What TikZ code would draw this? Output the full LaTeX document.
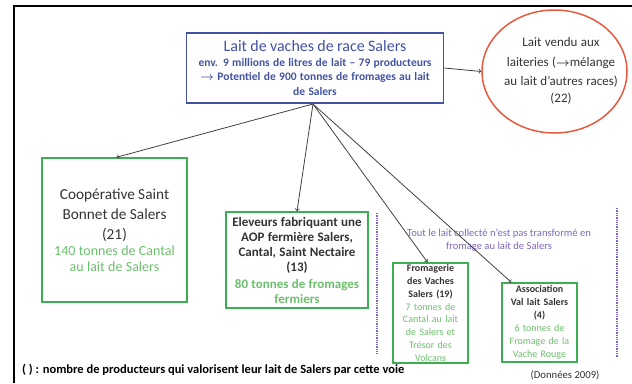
\documentclass[tikz,border=0pt]{standalone}
\usepackage{amsmath}
\usepackage{fontspec}
\setmainfont{Carlito}
\usetikzlibrary{shapes.geometric}
\definecolor{laitblue}{HTML}{4352A3}
\definecolor{laitred}{HTML}{E85A3F}
\definecolor{boxgreen}{HTML}{3DAE52}
\definecolor{txtgreen}{HTML}{6CBF6C}
\definecolor{voiepurple}{HTML}{7F66C2}
\definecolor{txtgray}{HTML}{333333}
% un bloc de lignes dans une taille donnee
\newcommand{\bloc}[3]{{\fontsize{#1}{#2}\selectfont #3\par}}

\begin{document}
\begin{tikzpicture}[x=1pt, y=-1pt,
    filiere/.style={draw=boxgreen, line width=1.5pt, align=center, inner sep=1pt, text=txtgray},
    fleche/.style={->, draw=black!75, line width=0.8pt},
    voie/.style={draw=voiepurple, densely dotted, line width=1.3pt}]
  \useasboundingbox (0,0) rectangle (632,383);
  \draw[line width=1.8pt] (14,383) -- (14,6) -- (632,6);

  \node [draw=laitblue, line width=1.6pt, align=center, text=laitblue, text width=255pt,
         minimum width=257pt, minimum height=70pt, inner sep=1pt] (lait) at (315,68)
    {\bloc{16}{18}{Lait de vaches de race Salers}
     \bloc{11.5}{14.5}{\bfseries env. 9 millions de litres de lait -- 79 producteurs\\
     $\boldsymbol{\rightarrow}$ Potentiel de 900 tonnes de fromages au lait\\ de Salers}};
  \node [ellipse, draw=laitred, line width=1.5pt, minimum width=145pt, minimum height=123pt,
         inner sep=0pt] (laiteries) at (554.5,71.5) {};
  \node [align=center, text=txtgray, text width=128pt, inner sep=0pt] (laiteries-txt) at (561,71)
    {\bloc{13}{19.5}{Lait vendu aux\\ laiteries ($\boldsymbol{\rightarrow}$mélange\\
     au lait d’autres\ races)\\[-3pt] (22)}};

  \node [filiere, text width=140pt, minimum width=145pt, minimum height=144pt] (coop) at (114.5,230)
    {\bloc{15.3}{20}{Coopérative Saint\\ Bonnet de Salers\\ (21)}
     \bloc{14}{16}{\color{txtgreen}140 tonnes\ de Cantal\\ au lait de Salers}};
  \node [filiere, text width=140pt, minimum width=142pt, minimum height=96pt] (eleveurs) at (297,260)
    {\bloc{13}{15}{\bfseries Eleveurs fabriquant une\\ AOP fermière Salers,\\
     Cantal, Saint Nectaire\\ (13)}\vspace{2pt}
     \bloc{13}{15}{\bfseries\color{txtgreen}80 tonnes de fromages\\ fermiers}};
  \node [filiere, text width=73pt, minimum width=75pt, minimum height=100pt] (fromagerie) at (430.5,313)
    {\bloc{10}{12.8}{\bfseries Fromagerie\\ des Vaches\\ Salers (19)}
     \bloc{10}{12.8}{\color{txtgreen}7 tonnes de\\ Cantal au lait\\ de Salers et\\ Trésor des\\ Volcans}};
  \node [filiere, text width=73pt, minimum width=75pt, minimum height=79pt] (assoc) at (539.5,322.5)
    {\bloc{10}{13}{\bfseries Association\\ Val lait Salers\\ (4)}
     \bloc{10}{13}{\color{txtgreen}6 tonnes de\\ Fromage de la\\ Vache Rouge}};

  % voies hors fromage AOP
  \coordinate (v1a) at (377,213);
  \coordinate (v1b) at (377,354);
  \coordinate (v2a) at (617,208);
  \coordinate (v2b) at (617,357);
  \draw[voie] (v1a) -- (v1b);
  \draw[voie] (v2a) -- (v2b);
  \node [text=voiepurple, align=center, font=\fontsize{10.6}{12.5}\selectfont] (collecte) at (499,240)
    {Tout le lait collecté n’est pas transformé en\\ fromage au lait de Salers};

  \coordinate (depart) at (313,104);
  \draw[fleche] (lait.east) -- (laiteries.west);
  \draw[fleche] (depart) -- ([xshift=2pt]coop.north);
  \draw[fleche] (depart) -- (eleveurs.north);
  \draw[fleche] (depart) -- ([xshift=-3pt]fromagerie.north);
  \draw[fleche] (depart) -- ([xshift=10pt]assoc.north west);

  \node [anchor=west, inner sep=0pt, font=\fontsize{12.5}{14}\selectfont\bfseries] (legende) at (22,369.5)
    {( ) : nombre de producteurs qui valorisent leur lait de Salers par cette voie};
  \node [inner sep=0pt, text=txtgray, font=\fontsize{10.7}{12}\selectfont] (donnees) at (565,375)
    {(Données 2009)};
\end{tikzpicture}
\end{document}
